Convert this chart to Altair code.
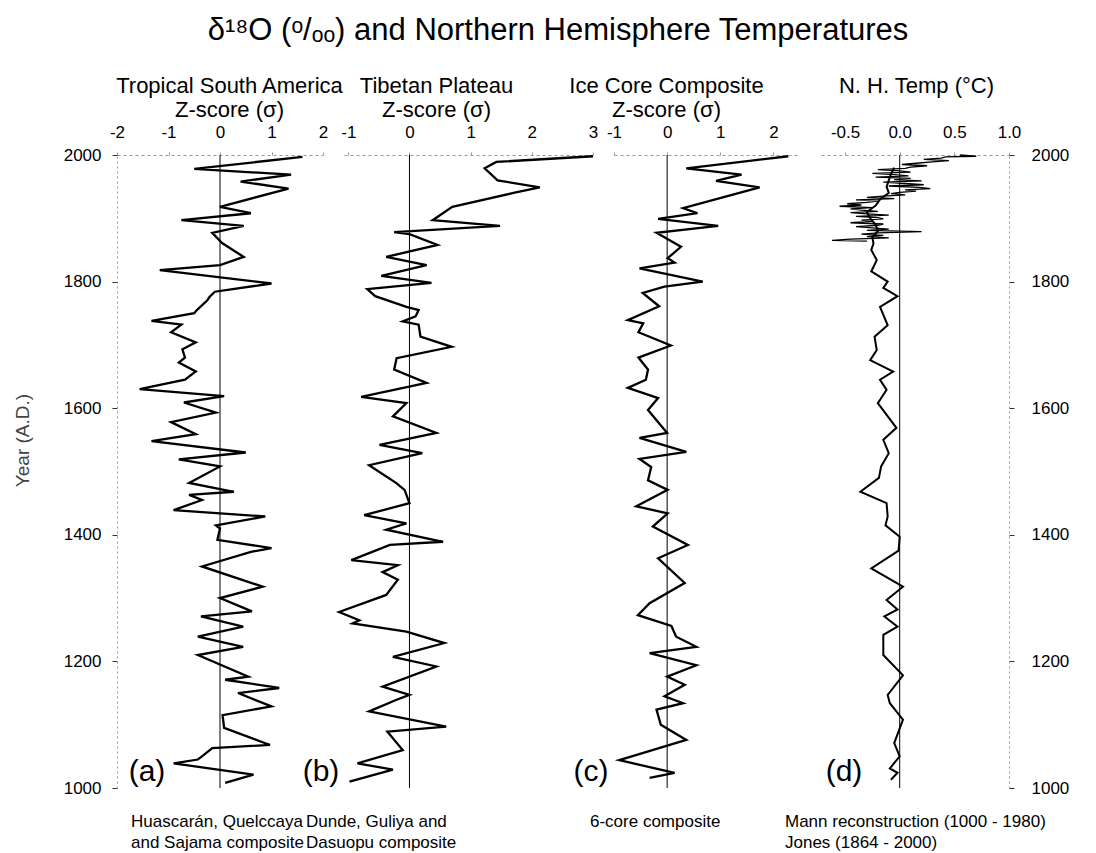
import altair as alt
import pandas as pd

FONT = "Liberation Sans"
H = 633

# (a) Tropical South America composite, Z-score
tsa_year = [1997, 1978, 1969, 1958, 1947, 1918, 1908, 1897, 1888, 1877, 1861, 1839, 1826, 1818, 1797,
            1784, 1776, 1770, 1755, 1750, 1738, 1732, 1720, 1704, 1693, 1680, 1672, 1658, 1645, 1630,
            1619, 1609, 1593, 1578, 1559, 1548, 1530, 1519, 1508, 1482, 1468, 1463, 1455, 1439, 1429,
            1415, 1410, 1392, 1379, 1373, 1350, 1318, 1300, 1279, 1271, 1255, 1239, 1223, 1210, 1176,
            1171, 1158, 1150, 1129, 1115, 1095, 1068, 1063, 1050, 1045, 1039, 1021, 1008]
tsa_z = [1.6, -0.5, 1.38, 0.4, 1.33, 0.0, 0.6, -0.75, 0.46, -0.15, 0.04, 0.46, 0.0, -1.17, 1.0,
         -0.1, -0.2, -0.25, -0.45, -0.5, -1.33, -0.75, -0.95, -0.47, -0.73, -0.68, -0.8, -0.47, -0.68, -1.56,
         0.08, -0.7, -0.08, -0.95, -0.47, -1.33, 0.5, -0.8, 0.0, -0.6, 0.27, -0.6, -0.35, -0.9, 0.88,
         -0.08, 0.0, -0.05, 1.0, 0.6, -0.35, 0.83, 0.0, 0.62, -0.37, 0.45, -0.43, 0.45, -0.43, 0.55,
         0.1, 1.15, 0.35, 1.0, 0.05, 0.08, 0.97, -0.15, -0.35, -0.43, -0.9, 0.65, 0.1]

# (b) Tibetan Plateau composite, Z-score
tib_year = [1998, 1989, 1979, 1960, 1949, 1940, 1918, 1897, 1888, 1878, 1875, 1858, 1839, 1826, 1809,
            1798, 1788, 1777, 1760, 1755, 1745, 1737, 1732, 1713, 1697, 1679, 1661, 1640, 1618, 1608,
            1587, 1561, 1542, 1529, 1510, 1482, 1471, 1450, 1431, 1418, 1408, 1389, 1384, 1360, 1352,
            1341, 1329, 1305, 1278, 1265, 1260, 1247, 1229, 1207, 1192, 1160, 1147, 1139, 1121, 1097,
            1089, 1060, 1039, 1029, 1010]
tib_z = [3.0, 1.42, 1.23, 1.44, 2.13, 1.7, 0.7, 0.38, 1.48, -0.25, 0.0, 0.46, -0.38, 0.28, -0.46,
         0.36, -0.69, -0.56, -0.05, 0.15, 0.1, -0.11, 0.15, 0.18, 0.69, -0.21, -0.25, 0.28, -0.79, -0.05,
         -0.27, 0.44, -0.49, 0.21, -0.66, -0.22, -0.08, 0.0, -0.74, -0.05, -0.38, 0.55, -0.32, -0.95, -0.19,
         -0.44, -0.19, -0.38, -1.15, -0.82, -0.93, -0.05, 0.57, -0.27, 0.44, -0.44, 0.0, -0.22, -0.66, 0.6,
         -0.36, -0.11, -0.85, -0.27, -0.98]

# (c) Ice core 6-core composite, Z-score
ice_year = [1998, 1979, 1969, 1959, 1949, 1916, 1908, 1899, 1888, 1877, 1855, 1837, 1830, 1821, 1800,
            1792, 1782, 1761, 1739, 1734, 1720, 1699, 1680, 1661, 1645, 1632, 1616, 1597, 1561, 1553,
            1531, 1520, 1507, 1486, 1471, 1445, 1434, 1413, 1384, 1363, 1324, 1292, 1273, 1256, 1239,
            1223, 1213, 1194, 1176, 1163, 1145, 1134, 1124, 1100, 1076, 1044, 1024, 1016]
ice_z = [2.28, 0.36, 1.4, 0.92, 1.74, 0.3, 0.57, -0.17, 0.96, -0.2, 0.26, 0.01, 0.14, -0.52, 0.67,
         -0.05, -0.46, -0.15, -0.74, -0.45, -0.54, 0.07, -0.54, -0.36, -0.4, -0.74, -0.17, -0.36, 0.0, -0.52,
         0.36, -0.52, -0.3, -0.36, 0.01, -0.58, 0.01, -0.27, 0.39, -0.17, 0.33, -0.33, -0.55, 0.08, 0.17,
         0.55, -0.33, 0.55, 0.0, 0.33, -0.05, 0.3, -0.2, -0.12, 0.36, -0.9, 0.14, -0.33]

# (d) Mann reconstruction (1000-1980), deg C
mann_year = [1980, 1970, 1960, 1950, 1940, 1930, 1920, 1910, 1900, 1890, 1880, 1870, 1860, 1850, 1834,
             1816, 1800, 1790, 1777, 1760, 1731, 1713, 1692, 1676, 1658, 1645, 1629, 1608, 1569, 1550,
             1529, 1508, 1490, 1468, 1450, 1429, 1415, 1397, 1375, 1347, 1318, 1297, 1282, 1271, 1255,
             1242, 1210, 1178, 1147, 1134, 1108, 1071, 1050, 1031, 1024, 1013]
mann_t = [-0.05, -0.08, -0.1, -0.12, -0.1, -0.18, -0.22, -0.3, -0.27, -0.22, -0.2, -0.25, -0.24, -0.26, -0.21,
          -0.26, -0.11, -0.15, -0.02, -0.18, -0.11, -0.23, -0.21, -0.27, -0.06, -0.18, -0.12, -0.2, -0.03, -0.15,
          -0.1, -0.17, -0.19, -0.36, -0.12, -0.11, -0.13, 0.0, -0.01, -0.26, 0.03, -0.12, -0.02, -0.14, -0.02,
          -0.15, -0.15, 0.03, -0.11, -0.09, 0.03, -0.05, 0.0, -0.09, -0.02, -0.08]

# (d) Jones instrumental (1864-2000), deg C
jones_year = [2000, 1998, 1997, 1995, 1993, 1991, 1989, 1987, 1985, 1983, 1981, 1979, 1977, 1975, 1973,
              1971, 1969, 1967, 1965, 1963, 1961, 1959, 1957, 1955, 1953, 1951, 1949, 1947, 1945, 1943,
              1941, 1939, 1937, 1935, 1933, 1931, 1929, 1927, 1925, 1923, 1921, 1919, 1917, 1915, 1913,
              1911, 1909, 1907, 1905, 1903, 1901, 1899, 1897, 1895, 1893, 1891, 1889, 1887, 1885, 1883,
              1881, 1879, 1877, 1875, 1873, 1871, 1869, 1867, 1865, 1864]
jones_t = [0.55, 0.70, 0.42, 0.38, 0.22, 0.45, 0.30, 0.15, 0.02, 0.25, 0.10, 0.05, -0.20, 0.0, 0.10,
           -0.25, -0.05, 0.08, -0.22, 0.10, -0.05, 0.20, -0.15, 0.05, 0.22, -0.10, 0.18, 0.28, 0.05, 0.15,
           0.0, -0.08, 0.05, -0.15, -0.30, -0.05, -0.40, -0.20, -0.30, -0.48, -0.35, -0.55, -0.25, -0.45, -0.35,
           -0.20, -0.45, -0.30, -0.10, -0.40, -0.20, -0.15, -0.35, -0.25, -0.45, -0.15, -0.20, -0.40, -0.25, -0.10,
           -0.30, 0.20, -0.20, -0.35, -0.15, -0.30, -0.10, -0.45, -0.62, -0.30]

assert len(tsa_year) == len(tsa_z)
assert len(tib_year) == len(tib_z)
assert len(ice_year) == len(ice_z)
assert len(mann_year) == len(mann_t)
assert len(jones_year) == len(jones_t)

MINUS = "replace(datum.label, '\u2212', '-')"
y_scale = alt.Scale(domain=[1000, 2000], nice=False, zero=False)
y_ticks = [1000, 1200, 1400, 1600, 1800, 2000]

left_y_axis = alt.Axis(orient="left", values=y_ticks, format="d", title="Year (A.D.)",
                       titleColor="#444", titleFontSize=19, titlePadding=31, titleY=285,
                       titleAlign="center", titleAngle=-90,
                       labelFontSize=17, labelPadding=11, tickSize=5, tickColor="#333",
                       domainColor="#999", domainDash=[2, 3])
right_y_axis = alt.Axis(orient="right", values=y_ticks, format="d", title=None,
                        labelFontSize=17, labelPadding=17, tickSize=5, tickColor="#333",
                        domainColor="#999", domainDash=[2, 3])


def x_axis(title, ticks, title_x, title_pad, fmt):
    return alt.Axis(orient="top", values=ticks, format=fmt, labelExpr=MINUS, labelFlush=False,
                    title=title, titleX=title_x,
                    titleAlign="center", titleAnchor="start", titlePadding=title_pad,
                    titleFontSize=22, titleLineHeight=24, labelFontSize=17, labelPadding=11,
                    tickSize=3, tickColor="#999", domainColor="#999", domainDash=[3, 3])


def panel(layers_data, domain, width, xaxis, yaxis, tag, tag_x, caption, cap_x):
    xs = alt.Scale(domain=domain, nice=False, zero=False)
    layers = []
    zero = alt.Chart(pd.DataFrame({"k": [0]})).mark_rule(color="black", strokeWidth=1).encode(
        x=alt.X(datum=0, scale=xs, axis=xaxis), y=alt.Y(datum=2000, scale=y_scale, axis=yaxis),
        y2=alt.Y2(datum=1000))
    layers.append(zero)
    for df, sw in layers_data:
        layers.append(alt.Chart(df).mark_line(color="black", strokeWidth=sw, strokeJoin="miter").encode(
            x=alt.X("v:Q", scale=xs, axis=xaxis),
            y=alt.Y("year:Q", scale=y_scale, axis=yaxis),
            order=alt.Order("year:Q")))
    lab = alt.Chart(pd.DataFrame({"t": [tag]})).mark_text(
        fontSize=30, font=FONT, align="center", baseline="middle").encode(
        text="t:N", x=alt.value(tag_x), y=alt.value(H - 16))
    cap = alt.Chart(pd.DataFrame({"t": [caption]})).mark_text(
        fontSize=17, font=FONT, align="left", baseline="top", lineBreak="\n", lineHeight=21).encode(
        text="t:N", x=alt.value(cap_x), y=alt.value(H + 26))
    layers += [lab, cap]
    return alt.layer(*layers).properties(width=width, height=H)


def frame(years, vals):
    return pd.DataFrame({"year": years, "v": vals})


pa = panel([(frame(tsa_year, tsa_z), 2.3)], [-2, 2], 206,
           x_axis(["Tropical South America", "Z-score (σ)"], [-2, -1, 0, 1, 2], 112, 2, "d"),
           left_y_axis, "(a)", 30, "Huascarán, Quelccaya\nand Sajama composite", 14)
pb = panel([(frame(tib_year, tib_z), 2.3)], [-1.07, 3], 249,
           x_axis(["Tibetan Plateau", "Z-score (σ)"], [-1, 0, 1, 2, 3], 92, 2, "d"),
           None, "(b)", -23, "Dunde, Guliya and\nDasuopu composite", -38)
pc = panel([(frame(ice_year, ice_z), 2.3)], [-1, 2.5], 186,
           x_axis(["Ice Core Composite", "Z-score (σ)"], [-1, 0, 1, 2], 52, 2, "d"),
           None, "(c)", -23, "6-core composite", -24)
pd_ = panel([(frame(mann_year, mann_t), 2.0), (frame(jones_year, jones_t), 1.3)], [-0.72, 1.0], 188,
            x_axis("N. H. Temp (°C)", [-0.5, 0.0, 0.5, 1.0], 95, 26, ".1f"),
            right_y_axis, "(d)", 23, "Mann reconstruction (1000 - 1980)\nJones (1864 - 2000)", -36)

chart = alt.hconcat(pa, pb, pc, pd_, spacing=21).properties(
    bounds="flush",
    padding={"left": 5, "top": 7, "right": 5, "bottom": 5},
    title=alt.TitleParams("δ¹⁸O (ᵒ/ₒₒ) and Northern Hemisphere Temperatures", fontSize=31,
                          font=FONT, fontWeight="normal", anchor="middle", offset=27, dx=17,
                          color="black"),
).configure_view(stroke=None).configure_axis(
    labelFont=FONT, titleFont=FONT, grid=False, labelColor="black", titleColor="black",
    titleFontWeight="normal")

chart.save("out.html", embed_options={"renderer": "svg", "actions": False})
